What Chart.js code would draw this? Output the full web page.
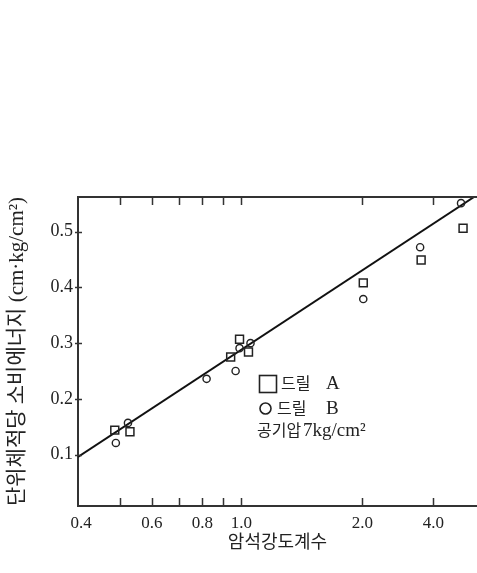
<!DOCTYPE html>
<html>
<head>
<meta charset="utf-8">
<script src="https://cdn.jsdelivr.net/npm/chart.js@4.4.0/dist/chart.umd.min.js"></script>
<style>
  html, body { margin: 0; padding: 0; background: #fff; }
  #wrap { width: 477px; height: 573px; }
</style>
</head>
<body>
<div id="wrap"><canvas id="chart" width="477" height="573"></canvas></div>
<script>
// 데이터
const drillAX = [0.485, 0.529, 0.941, 0.990, 1.042, 2.009, 2.797, 3.555];
const drillAY = [0.144, 0.141, 0.275, 0.307, 0.284, 0.408, 0.449, 0.506];
const drillBX = [0.488, 0.523, 0.820, 0.968, 0.990, 1.054, 2.009, 2.781, 3.514];
const drillBY = [0.121, 0.157, 0.236, 0.250, 0.291, 0.300, 0.379, 0.472, 0.551];
const fitX = [0.393, 3.785];
const fitY = [0.096, 0.562];

const xTickValues = [0.4, 0.6, 0.8, 1.0, 2.0, 3.0];
const xTickLabels = ['0.4', '0.6', '0.8', '1.0', '2.0', '4.0'];
const xMinorValues = [0.5, 0.7, 0.9];
const yTickValues = [0.1, 0.2, 0.3, 0.4, 0.5];

const legendLabels = ['드릴 A', '드릴 B', '공기압 7kg/cm²'];
const xTitle = '암석강도계수';
const yTitle = '단위체적당 소비에너지 (cm·kg/cm²)';

const FONT = "'Liberation Serif', 'Noto Sans CJK KR', serif";
const KFONT = "'Noto Sans CJK KR', sans-serif";
const INK = '#222';
const AXIS = '#333';

function toPoints(xs, ys) {
    return xs.map((x, i) => ({ x: x, y: ys[i] }));
}

// 한글 부분과 영문 부분을 나눠서 그림
function drawLegendText(ctx, text, x1, x2, y) {
    const cut = text.indexOf(' ');
    ctx.font = '16px ' + KFONT;
    ctx.fillText(text.slice(0, cut), x1, y);
    ctx.font = '19px ' + FONT;
    ctx.fillText(text.slice(cut + 1), x2, y + 1);
}

// 안쪽 눈금, 위쪽 테두리, 범례
const framePlugin = {
    id: 'frame',
    afterDraw(chart) {
        const ctx = chart.ctx;
        const a = chart.chartArea;
        const xs = chart.scales.x;
        const ys = chart.scales.y;
        ctx.save();
        ctx.strokeStyle = AXIS;
        ctx.lineWidth = 2;
        ctx.beginPath();
        ctx.moveTo(a.left - 1, a.top);
        ctx.lineTo(a.right, a.top);
        ctx.stroke();

        ctx.lineWidth = 1.5;
        xTickValues.concat(xMinorValues).forEach(v => {
            if (v <= 0.4) return; // 0.4 는 세로축과 겹침
            const px = Math.round(xs.getPixelForValue(v)) + 0.5;
            ctx.beginPath();
            ctx.moveTo(px, a.top);
            ctx.lineTo(px, a.top + 8);
            ctx.moveTo(px, a.bottom);
            ctx.lineTo(px, a.bottom - 8);
            ctx.stroke();
        });
        yTickValues.forEach(v => {
            const py = Math.round(ys.getPixelForValue(v)) + 0.5;
            ctx.beginPath();
            ctx.moveTo(a.left - 3, py);
            ctx.lineTo(a.left + 4, py);
            ctx.stroke();
        });

        // 범례
        ctx.strokeStyle = INK;
        ctx.lineWidth = 1.6;
        ctx.strokeRect(259.5, 375.5, 17, 17);
        ctx.beginPath();
        ctx.arc(265.5, 408.5, 5.5, 0, Math.PI * 2);
        ctx.stroke();
        ctx.fillStyle = INK;
        ctx.textBaseline = 'middle';
        ctx.textAlign = 'left';
        drawLegendText(ctx, legendLabels[0], 281, 326, 383);
        drawLegendText(ctx, legendLabels[1], 277, 326, 408);
        drawLegendText(ctx, legendLabels[2], 257, 303, 430);
        ctx.restore();
    }
};

new Chart(document.getElementById('chart'), {
    type: 'scatter',
    data: {
        datasets: [
            {
                label: legendLabels[0],
                data: toPoints(drillAX, drillAY),
                pointStyle: 'rect',
                pointRadius: 5.6,
                pointBorderWidth: 1.5,
                pointBorderColor: INK,
                pointBackgroundColor: 'rgba(0,0,0,0)',
                showLine: false
            },
            {
                label: legendLabels[1],
                data: toPoints(drillBX, drillBY),
                pointStyle: 'circle',
                pointRadius: 3.6,
                pointBorderWidth: 1.4,
                pointBorderColor: INK,
                pointBackgroundColor: 'rgba(0,0,0,0)',
                showLine: false
            },
            {
                label: 'fit',
                data: toPoints(fitX, fitY),
                showLine: true,
                borderColor: '#111',
                borderWidth: 2,
                pointRadius: 0,
                fill: false
            }
        ]
    },
    options: {
        responsive: false,
        animation: false,
        devicePixelRatio: 1,
        layout: { autoPadding: false, padding: { top: 197, right: 0, left: 0, bottom: 0 } },
        plugins: {
            legend: { display: false },
            tooltip: { enabled: false }
        },
        scales: {
            x: {
                type: 'logarithmic',
                min: 0.393,
                max: 3.85,
                afterBuildTicks: s => { s.ticks = xTickValues.map(v => ({ value: v, major: true })); },
                afterFit: s => { s.height = 67; },
                grid: { display: false, drawTicks: false },
                border: { display: true, color: AXIS, width: 2 },
                ticks: {
                    autoSkip: false,
                    maxRotation: 0,
                    padding: 7,
                    color: INK,
                    font: { family: FONT, size: 17 },
                    callback: (v, i) => xTickLabels[i]
                },
                title: {
                    display: true,
                    text: xTitle,
                    color: INK,
                    font: { family: FONT, size: 18 },
                    padding: { top: 0, bottom: 19 }
                }
            },
            y: {
                type: 'linear',
                min: 0.008,
                max: 0.562,
                afterBuildTicks: s => { s.ticks = yTickValues.map(v => ({ value: v })); },
                afterFit: s => { s.width = 78; },
                grid: { display: false, drawTicks: false },
                border: { display: true, color: AXIS, width: 2 },
                ticks: {
                    padding: 5,
                    color: INK,
                    font: { family: FONT, size: 18 },
                    callback: v => v.toFixed(1)
                },
                title: {
                    display: true,
                    text: yTitle,
                    color: INK,
                    font: { family: FONT, size: 21 },
                    padding: { top: 5, bottom: 0 }
                }
            }
        }
    },
    plugins: [framePlugin]
});
</script>
</body>
</html>
